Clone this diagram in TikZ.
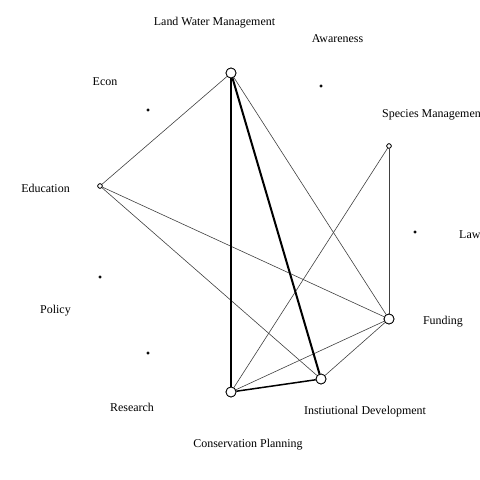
\documentclass[tikz,border=0pt]{standalone}
\usepackage{fontspec}
\setmainfont{Liberation Serif}
\begin{document}
\begin{tikzpicture}[x=1bp,y=-1bp,
  big/.style={circle,draw=black,fill=white,line width=0.8bp,minimum size=10bp,inner sep=0pt},
  small/.style={circle,draw=black,fill=white,line width=0.7bp,minimum size=4.5bp,inner sep=0pt},
  tiny/.style={circle,draw=black,fill=black,line width=0.4bp,minimum size=2.5bp,inner sep=0pt},
  lab/.style={font=\fontsize{12}{14}\selectfont,inner sep=0pt},
  thin/.style={draw=black!75,line width=0.6bp},
  w2/.style={draw=black,line width=1.5bp},
  w3/.style={draw=black,line width=2bp}]
\useasboundingbox (0,0) rectangle (480,480);
% nodes
\node[big] (lwm) at (231,73) {};
\node[tiny] (aw) at (321,86) {};
\node[small] (sm) at (389,146) {};
\node[tiny] (law) at (415,232) {};
\node[big] (fu) at (389,319) {};
\node[big] (id) at (321,379) {};
\node[big] (cp) at (231,392) {};
\node[tiny] (re) at (148,353) {};
\node[tiny] (po) at (100,277) {};
\node[small] (ed) at (100,186) {};
\node[tiny] (ec) at (148,110) {};
% edges
\path[thin] (lwm) -- (ed);
\path[thin] (lwm) -- (fu);
\path[thin] (ed) -- (fu);
\path[thin] (ed) -- (id);
\path[thin] (sm) -- (fu);
\path[thin] (sm) -- (cp);
\path[thin] (fu) -- (cp);
\path[thin] (fu) -- (id);
\path[w2] (lwm) -- (cp);
\path[w3] (lwm) -- (id);
\path[w2] (id) -- (cp);
% redraw nodes on top
\node[big] at (lwm) {};
\node[big] at (fu) {};
\node[big] at (id) {};
\node[big] at (cp) {};
\node[small] at (sm) {};
\node[small] at (ed) {};
% labels
\node[lab] (llwm) at (214.5,22.5) {Land Water Management};
\node[lab] (law2) at (337.5,38.5) {Awareness};
\node[lab] (lec) at (105,81.5) {Econ};
\node[lab,anchor=west] (lsm) at (382,114.5) {Species Management};
\node[lab] (led) at (45.5,188.5) {Education};
\node[lab,anchor=west] (llaw) at (459,234.5) {Law};
\node[lab] (lfu) at (443,321.5) {Funding};
\node[lab] (lpo) at (55.5,310.5) {Policy};
\node[lab] (lre) at (132,407.5) {Research};
\node[lab] (lid) at (365,411.5) {Instiutional Development};
\node[lab] (lcp) at (248,444.5) {Conservation Planning};
\end{tikzpicture}
\end{document}
